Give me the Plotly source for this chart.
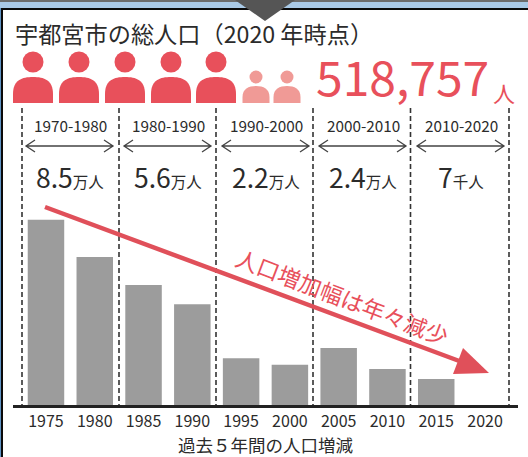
import plotly.graph_objects as go

WIDTH = 528
HEIGHT = 457
RED = "#e8505b"
PINK = "#f09a96"
INK = "#2b2b2b"
FONT = "Noto Sans CJK JP"

years = [1975, 1980, 1985, 1990, 1995, 2000, 2005, 2010, 2015, 2020]
# five-year population change
increase = [47400, 37900, 30700, 25800, 12000, 10300, 14600, 9200, 6650, 0]

periods = ["1970-1980", "1980-1990", "1990-2000", "2000-2010", "2010-2020"]
period_values = ["8.5", "5.6", "2.2", "2.4", "7"]
period_units = ["万人", "万人", "万人", "万人", "千人"]


def px(x):
    return x / WIDTH


def py(y):
    return 1 - y / HEIGHT


def poly(points, close=True):
    d = "M " + " L ".join(f"{px(x):.5f} {py(y):.5f}" for x, y in points)
    return d + (" Z" if close else "")


def person(cx, head_y, head_r, top, bottom, half, color):
    # head circle plus a rounded shoulder body
    l, r = cx - half, cx + half
    bend = half * 0.45
    body = (
        f"M {px(l)} {py(bottom)} L {px(l)} {py(bottom - bend)} "
        f"C {px(l)} {py(top + 3)} {px(l + bend)} {py(top)} {px(cx)} {py(top)} "
        f"C {px(r - bend)} {py(top)} {px(r)} {py(top + 3)} {px(r)} {py(bottom - bend)} "
        f"L {px(r)} {py(bottom)} Z"
    )
    return [
        dict(type="circle", xref="paper", yref="paper", x0=px(cx - head_r), x1=px(cx + head_r),
             y0=py(head_y + head_r), y1=py(head_y - head_r), fillcolor=color, line_width=0),
        dict(type="path", xref="paper", yref="paper", path=body, fillcolor=color, line_width=0),
    ]


def text(x, y, s, size, color=INK, angle=0, xanchor="center"):
    return dict(x=px(x), y=py(y), xref="paper", yref="paper", text=s, showarrow=False,
                xanchor=xanchor, yanchor="middle", textangle=angle,
                font=dict(family=FONT, size=size, color=color))


fig = go.Figure(
    go.Bar(x=years, y=increase, width=3.74, marker=dict(color="#9c9c9c", line_width=0),
           showlegend=False)
)

shapes = []

# frame strip along the top and the left edge
shapes.append(dict(type="rect", xref="paper", yref="paper", x0=0, x1=1, y0=py(8), y1=1,
                   fillcolor="#a9c9e6", line_width=0))
shapes.append(dict(type="rect", xref="paper", yref="paper", x0=0, x1=1, y0=py(2), y1=1,
                   fillcolor="#6b6b6b", line_width=0))
shapes.append(dict(type="rect", xref="paper", yref="paper", x0=0, x1=1, y0=py(10), y1=py(8),
                   fillcolor="#0a0a0a", line_width=0))
shapes.append(dict(type="rect", xref="paper", yref="paper", x0=0, x1=px(1), y0=0, y1=py(8),
                   fillcolor="#5f93c4", line_width=0))
shapes.append(dict(type="rect", xref="paper", yref="paper", x0=px(1), x1=px(3), y0=0, y1=py(8),
                   fillcolor="#0a0a0a", line_width=0))
shapes.append(dict(type="path", xref="paper", yref="paper",
                   path=poly([(235, 0), (295, 0), (265, 21)]), fillcolor="#555555", line_width=0))

# population pictogram
for cx in [33, 79, 125, 171, 216]:
    shapes += person(cx, 62, 10.5, 77, 103, 20, RED)
for cx in [256, 287]:
    shapes += person(cx, 77, 6.5, 86, 103, 13.5, PINK)

# dashed separators between the decades
for x in [22, 119, 216, 313, 410.5, 509]:
    shapes.append(dict(type="line", xref="paper", yref="paper", x0=px(x), x1=px(x),
                       y0=py(108), y1=py(405), line=dict(color="#333333", width=1.6, dash="5px,3px")))

# double-headed span arrows
for x0, x1 in [(26, 113), (124, 211), (222, 309), (319, 406), (417, 504)]:
    shapes.append(dict(type="path", xref="paper", yref="paper", line=dict(color="#444444", width=1.3),
                       path=poly([(x0, 146), (x1, 146)], False)
                       + " " + poly([(x0 + 9, 140), (x0, 146), (x0 + 9, 152)], False)
                       + " " + poly([(x1 - 9, 140), (x1, 146), (x1 - 9, 152)], False)))

# trend arrow
shapes.append(dict(type="line", xref="paper", yref="paper", x0=px(45), y0=py(207), x1=px(470), y1=py(365),
                   line=dict(color="#e0505a", width=4.5)))
shapes.append(dict(type="path", xref="paper", yref="paper",
                   path=poly([(463, 348), (489, 373), (453, 374)]), fillcolor="#e0505a", line_width=0))

annotations = [
    text(13, 33, "宇都宮市の総人口（2020 年時点）", 23.2, xanchor="left"),
    text(314, 75, "518,757", 48, RED, xanchor="left"),
    text(491, 92, "人", 22, RED, xanchor="left"),
    text(342, 296, "人口増加幅は年々減少", 22.5, RED, angle=21),
]
for cx, label, value, unit in zip([69, 167, 265, 362, 460], periods, period_values, period_units):
    annotations.append(text(cx + 1, 125, label, 15.3))
    annotations.append(text(cx + 1, 177, f'{value}<span style="font-size:15.5px">{unit}</span>', 26.5))

fig.update_layout(
    width=WIDTH,
    height=HEIGHT,
    margin=dict(l=0, r=0, t=0, b=0),
    paper_bgcolor="white",
    plot_bgcolor="white",
    showlegend=False,
    font=dict(family=FONT, color=INK),
    shapes=shapes,
    annotations=annotations,
    xaxis=dict(
        domain=[px(13), px(518)],
        range=[1971.62, 2023.38],
        tickvals=years,
        ticks="",
        showgrid=False,
        zeroline=False,
        showline=True,
        linecolor="#222222",
        linewidth=3,
        tickfont=dict(size=16, color=INK, family=FONT),
        title=dict(text="過去５年間の人口増減", font=dict(size=17.5, color=INK, family=FONT), standoff=1),
    ),
    yaxis=dict(
        domain=[py(405), 1],
        range=[0, 405 * 256],
        visible=False,
    ),
)

# the page's default body margin would push the figure 8px in
fig.write_html(
    "out.html",
    config=dict(displayModeBar=False),
    post_script="document.body.style.margin='0';",
)
